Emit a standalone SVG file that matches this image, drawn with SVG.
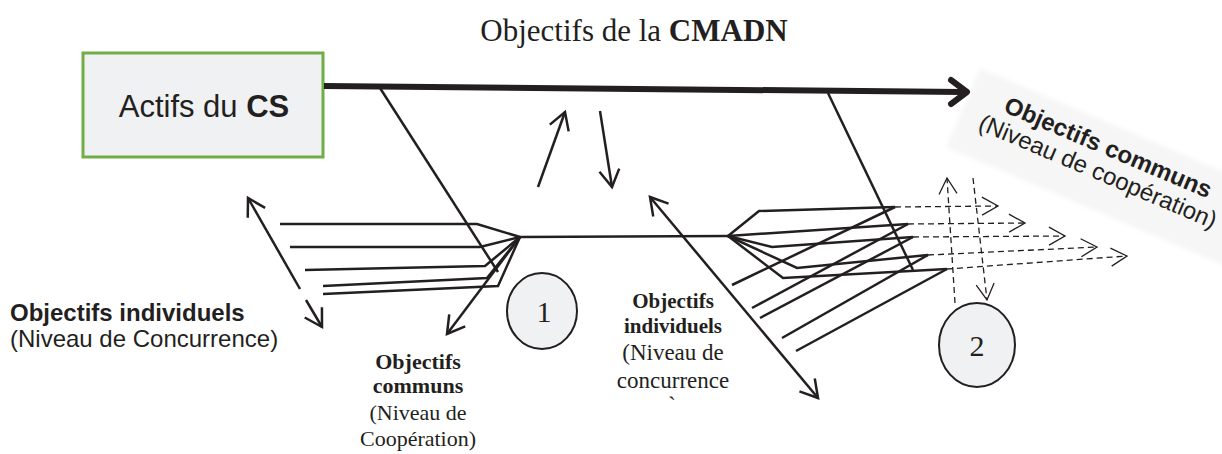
<svg xmlns="http://www.w3.org/2000/svg" width="1222" height="454" viewBox="0 0 1222 454">
<style>
.ln{fill:none;stroke:#231f20;stroke-width:2.5;stroke-linejoin:miter}
.ds{fill:none;stroke:#231f20;stroke-width:1.3;stroke-dasharray:6 4}
.ser{font-family:"Liberation Serif","Times New Roman",serif;fill:#231f20}
.sans{font-family:"Liberation Sans",Arial,sans-serif;fill:#231f20}
.b{font-weight:bold}
.nd{fill:#f0f1f3;stroke:#231f20;stroke-width:2}
</style>
<defs>
<marker id="ah" markerUnits="userSpaceOnUse" viewBox="-22 -12 24 24" markerWidth="24" markerHeight="24" refX="0" refY="0" orient="auto-start-reverse" overflow="visible">
<path d="M-17,-10 L0,0 L-17,10" fill="none" stroke="#231f20" stroke-width="2.5"/>
</marker>
<marker id="dh" markerUnits="userSpaceOnUse" viewBox="-22 -12 24 24" markerWidth="24" markerHeight="24" refX="0" refY="0" orient="auto" overflow="visible">
<path d="M-16,-9 L0,0 L-16,9" fill="none" stroke="#231f20" stroke-width="1.3"/>
</marker>
<filter id="soft" x="-10%" y="-30%" width="120%" height="160%">
<feGaussianBlur stdDeviation="2.5"/>
</filter>
</defs>
<rect width="1222" height="454" fill="#ffffff"/>

<g id="panel-communs" transform="translate(1105,155) rotate(23)">
<rect x="-149" y="-31" width="420" height="86" fill="#f6f6f6" filter="url(#soft)"/>
<text class="sans b" x="0" y="0" font-size="24" text-anchor="middle">Objectifs communs</text>
<text class="sans" x="0" y="26" font-size="24" text-anchor="middle">(Niveau de coopération)</text>
</g>

<g id="titre">
<text class="ser" x="634" y="41" font-size="31" text-anchor="middle">Objectifs de la <tspan font-weight="bold">CMADN</tspan></text>
</g>

<g id="actifs">
<rect x="83" y="53" width="240" height="104" fill="#f0f1f3" stroke="#70ad47" stroke-width="3"/>
<text class="sans" x="204" y="117" font-size="31" text-anchor="middle">Actifs du <tspan font-weight="bold">CS</tspan></text>
</g>

<g id="connecteurs">
<path d="M324,86 L962,92" fill="none" stroke="#231f20" stroke-width="6"/>
<path d="M951,80 L967,92 L951,104" fill="none" stroke="#231f20" stroke-width="6" stroke-linejoin="round" stroke-linecap="round"/>
<line class="ln" x1="380" y1="88" x2="498" y2="272"/>
<line class="ln" x1="828" y1="93" x2="913" y2="270"/>
<polyline class="ln" points="280,224 477,224 520,237"/>
<polyline class="ln" points="290,247 480,247 520,237"/>
<polyline class="ln" points="305,270 485,266 520,237"/>
<polyline class="ln" points="323,286 487,278 520,237"/>
<polyline class="ln" points="323,294 498,286 520,237"/>
<line class="ln" x1="520" y1="237" x2="728" y2="236"/>
<polyline class="ln" points="728,236 759,211 895,207"/>
<polyline class="ln" points="728,236 908,224"/>
<polyline class="ln" points="728,236 772,247 913,237"/>
<polyline class="ln" points="728,236 797,268 928,255"/>
<polyline class="ln" points="728,236 783,278 947,269"/>
<line class="ln" x1="732" y1="285" x2="895" y2="207"/>
<line class="ln" x1="752" y1="308" x2="908" y2="224"/>
<line class="ln" x1="760" y1="318" x2="913" y2="237"/>
<line class="ln" x1="782" y1="338" x2="928" y2="255"/>
<line class="ln" x1="796" y1="351" x2="947" y2="269"/>
<line class="ds" x1="895" y1="207" x2="998" y2="206" marker-end="url(#dh)"/>
<line class="ds" x1="908" y1="224" x2="1025" y2="223" marker-end="url(#dh)"/>
<line class="ds" x1="913" y1="237" x2="1065" y2="236" marker-end="url(#dh)"/>
<line class="ds" x1="928" y1="255" x2="1097" y2="247" marker-end="url(#dh)"/>
<line class="ds" x1="947" y1="269" x2="1127" y2="256" marker-end="url(#dh)"/>
<line class="ds" x1="955" y1="303" x2="947" y2="178" marker-end="url(#dh)"/>
<line class="ds" x1="973" y1="178" x2="987" y2="300" marker-end="url(#dh)"/>
<line class="ln" x1="538" y1="187" x2="565" y2="112" marker-end="url(#ah)"/>
<line class="ln" x1="600" y1="111" x2="612" y2="187" marker-end="url(#ah)"/>
<line class="ln" x1="650" y1="197" x2="818" y2="398" marker-start="url(#ah)" marker-end="url(#ah)"/>
<line class="ln" x1="520" y1="237" x2="447" y2="334" marker-end="url(#ah)"/>
<line class="ln" x1="300" y1="289" x2="248" y2="198" marker-end="url(#ah)"/>
<line class="ln" x1="306" y1="300" x2="322" y2="327" marker-end="url(#ah)"/>
</g>

<g id="cercle-1">
<ellipse class="nd" cx="542" cy="311" rx="35" ry="38"/>
<text class="ser" x="544" y="322" font-size="30" text-anchor="middle">1</text>
</g>

<g id="cercle-2">
<ellipse class="nd" cx="977" cy="345" rx="38" ry="42"/>
<text class="ser" x="977" y="356" font-size="30" text-anchor="middle">2</text>
</g>

<g id="label-individuels-gauche">
<text class="sans b" x="10" y="321" font-size="24">Objectifs individuels</text>
<text class="sans" x="10" y="347" font-size="24">(Niveau de Concurrence)</text>
</g>

<g id="label-communs-bas">
<text class="ser b" x="418" y="369" font-size="22" text-anchor="middle">Objectifs</text>
<text class="ser b" x="418" y="393" font-size="22" text-anchor="middle">communs</text>
<text class="ser" x="418" y="420" font-size="22" text-anchor="middle">(Niveau de</text>
<text class="ser" x="418" y="446" font-size="22" text-anchor="middle">Coopération)</text>
</g>

<g id="label-individuels-milieu">
<text class="ser b" x="673" y="308" font-size="21" text-anchor="middle">Objectifs</text>
<text class="ser b" x="673" y="333" font-size="21" text-anchor="middle">individuels</text>
<text class="ser" x="673" y="360" font-size="23" text-anchor="middle">(Niveau de</text>
<text class="ser" x="673" y="388" font-size="23" text-anchor="middle">concurrence</text>
<text class="ser" x="672" y="413" font-size="23" text-anchor="middle">`</text>
</g>
</svg>
